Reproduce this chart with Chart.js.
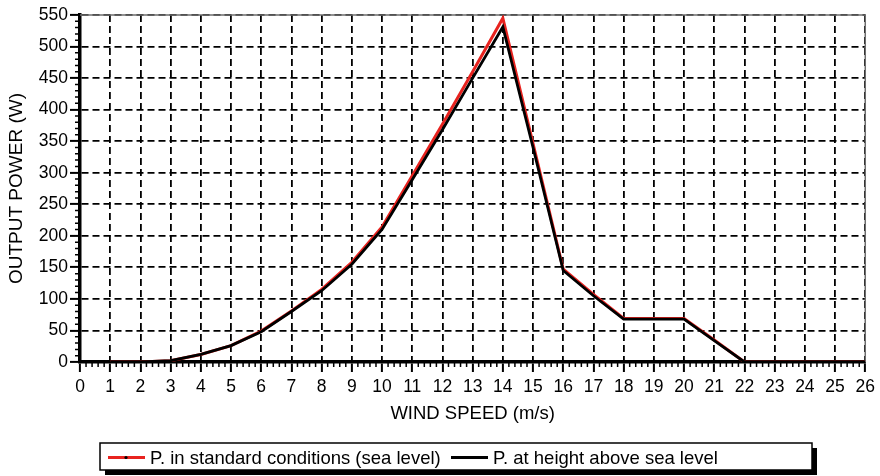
<!DOCTYPE html>
<html><head><meta charset="utf-8">
<script src="https://cdn.jsdelivr.net/npm/chart.js@4"></script>
<style>html,body{margin:0;padding:0;background:#fff}#wrap{width:880px;height:476px}</style>
</head><body><div id="wrap"><canvas id="c" width="880" height="476"></canvas></div>
<script>
// ---- data ----
const windSpeed      = [1, 2, 3, 4, 5, 6, 7, 8, 9, 10, 11, 12, 13, 14, 15, 16, 17, 18, 19, 20, 21, 22, 23, 24, 25, 26];
const powerSeaLevel  = [0, 0, 2, 12, 26, 49, 81, 115, 158, 214, 295, 377, 460, 545, 346, 147, 107, 69, 69, 69, 35, 0, 0, 0, 0, 0];
const powerAtHeight  = [0, 0, 2, 12, 26, 48, 80, 113, 155, 210, 289, 368, 450, 531, 340, 145, 105, 68, 68, 68, 34, 0, 0, 0, 0, 0];
const seriesLabels   = ['P. in standard conditions (sea level)', 'P. at height above sea level'];
const seriesColors   = ['#e8231f', '#000000'];
const xTickLabels    = [0,1,2,3,4,5,6,7,8,9,10,11,12,13,14,15,16,17,18,19,20,21,22,23,24,25,26];
const yTickLabels    = [0,50,100,150,200,250,300,350,400,450,500,550];
const xTitle = 'WIND SPEED (m/s)';
const yTitle = 'OUTPUT POWER (W)';

const FONT = '"Liberation Sans", Arial, sans-serif';

const toPoints = (ys) => windSpeed.map((x, i) => ({x, y: ys[i]}));

const framePlugin = {
  id: 'frame',
  beforeDatasetsDraw(chart) {
    const {ctx, chartArea: a} = chart;
    ctx.save();
    ctx.strokeStyle = '#6d6d6d';
    ctx.lineWidth = 1.5;
    ctx.beginPath();
    ctx.moveTo(a.left, a.top);
    ctx.lineTo(a.right, a.top);
    ctx.lineTo(a.right, a.bottom);
    ctx.stroke();
    ctx.restore();
  },
  afterDraw(chart) {
    const {ctx, chartArea: a, scales} = chart;
    const xs = scales.x, ys = scales.y;
    ctx.save();
    ctx.strokeStyle = '#000';
    ctx.lineWidth = 1.5;
    ctx.beginPath();
    // minor ticks on x axis
    for (let k = 0; k <= 26 * 5; k++) {
      if (k % 5 === 0) continue;
      const px = xs.getPixelForValue(k / 5);
      ctx.moveTo(px, a.bottom);
      ctx.lineTo(px, a.bottom + 5);
    }
    // minor ticks on y axis
    for (let v = 0; v <= 550; v += 10) {
      if (v % 50 === 0) continue;
      const py = ys.getPixelForValue(v);
      ctx.moveTo(a.left, py);
      ctx.lineTo(a.left - 5, py);
    }
    ctx.stroke();

    // legend box
    const bx = 100, by = 443, bw = 712, bh = 27;
    ctx.fillStyle = '#000';
    ctx.fillRect(bx + 5, by + 5, bw, bh);
    ctx.fillStyle = '#fff';
    ctx.fillRect(bx, by, bw, bh);
    ctx.lineWidth = 1.5;
    ctx.strokeStyle = '#000';
    ctx.strokeRect(bx, by, bw, bh);
    const cy = by + bh / 2 + 1;
    const items = [{x: 108}, {x: 451}];
    ctx.font = '18.5px ' + FONT;
    ctx.textBaseline = 'middle';
    ctx.textAlign = 'left';
    chart.data.datasets.forEach((ds, i) => {
      const x0 = items[i].x;
      ctx.strokeStyle = ds.borderColor;
      ctx.lineWidth = 3;
      ctx.beginPath();
      ctx.moveTo(x0, cy);
      ctx.lineTo(x0 + 37, cy);
      ctx.stroke();
      if (i === 0) {
        ctx.fillStyle = '#000';
        ctx.beginPath();
        ctx.arc(x0 + 18, cy, 1.6, 0, Math.PI * 2);
        ctx.fill();
      }
      ctx.fillStyle = '#000';
      ctx.fillText(ds.label, x0 + 42, cy + 1);
    });
    ctx.restore();
  }
};

new Chart(document.getElementById('c'), {
  type: 'line',
  data: {
    datasets: [
      { label: seriesLabels[0], data: toPoints(powerSeaLevel), borderColor: seriesColors[0], backgroundColor: seriesColors[0],
        borderWidth: 3, pointRadius: 0, tension: 0, order: 1 },
      { label: seriesLabels[1], data: toPoints(powerAtHeight), borderColor: seriesColors[1], backgroundColor: seriesColors[1],
        borderWidth: 2.8, pointRadius: 0, tension: 0, order: 0 }
    ]
  },
  options: {
    responsive: false,
    animation: false,
    events: [],
    layout: { padding: { top: 15, right: 14, bottom: 48, left: 0 } },
    plugins: { legend: { display: false }, tooltip: { enabled: false }, title: { display: false } },
    scales: {
      x: {
        type: 'linear', min: 0, max: 26,
        afterFit: (s) => { s.height = 66; },
        afterBuildTicks: (s) => { s.ticks = xTickLabels.map(v => ({value: v})); },
        ticks: { stepSize: 1, color: '#000', font: { family: FONT, size: 17.5 }, padding: 5, maxRotation: 0, autoSkip: false },
        grid: { color: '#000', lineWidth: 1.8, tickLength: 10, tickWidth: 2, tickColor: '#000', tickBorderDash: [] },
        border: { display: true, color: '#000', width: 3.5, dash: [7, 4] },
        title: { display: true, text: xTitle, color: '#000', font: { family: FONT, size: 18.5 }, padding: { top: 0, bottom: 3 } }
      },
      y: {
        type: 'linear', min: 0, max: 550,
        afterFit: (s) => { s.width = 80; },
        afterBuildTicks: (s) => { s.ticks = yTickLabels.map(v => ({value: v})); },
        ticks: { stepSize: 50, color: '#000', font: { family: FONT, size: 17.5 }, padding: 2 },
        grid: { color: '#000', lineWidth: 1.8, tickLength: 10, tickWidth: 2, tickColor: '#000', tickBorderDash: [] },
        border: { display: true, color: '#000', width: 3.5, dash: [7, 4] },
        title: { display: true, text: yTitle, color: '#000', font: { family: FONT, size: 19 }, padding: { top: 5, bottom: 0 } }
      }
    }
  },
  plugins: [framePlugin]
});
</script>
</body></html>
